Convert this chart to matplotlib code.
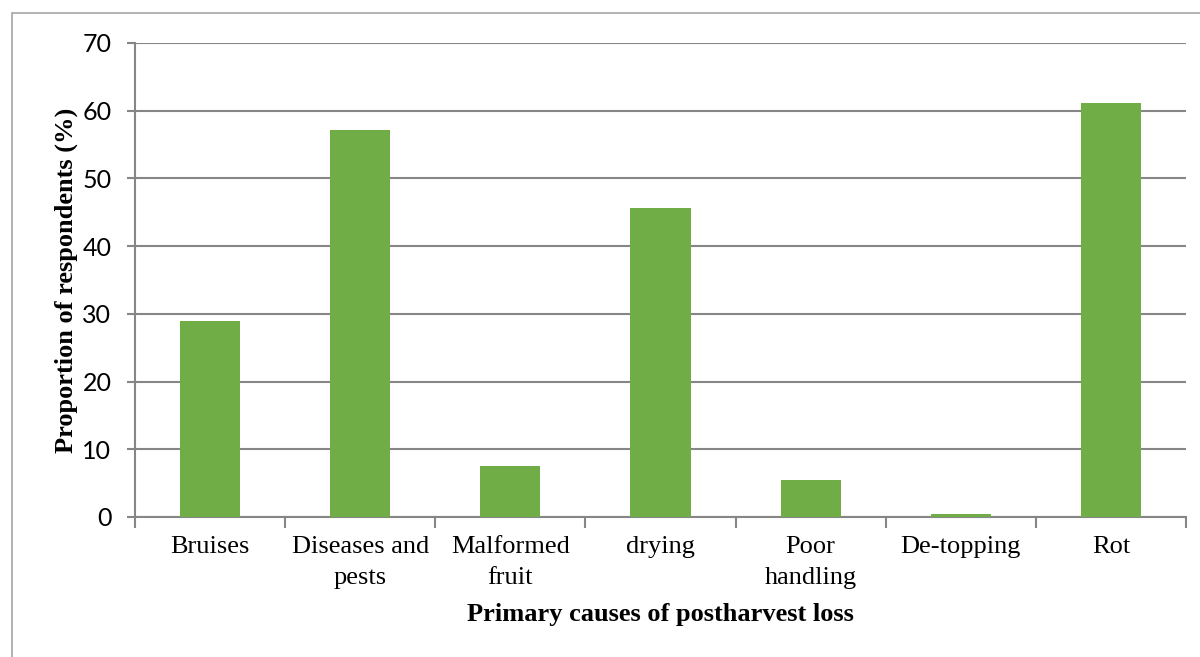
import matplotlib
matplotlib.use("Agg")
import matplotlib.pyplot as plt
from matplotlib.patches import Rectangle

categories = ["Bruises", "Diseases and\npests", "Malformed\nfruit", "drying",
              "Poor\nhandling", "De-topping", "Rot"]
values = [28.9, 57.2, 7.5, 45.6, 5.5, 0.5, 61.1]
yticks = [0, 10, 20, 30, 40, 50, 60, 70]

fig = plt.figure(figsize=(12, 6.57), dpi=100)
fig.patches.append(Rectangle((12/1200, -0.1), 1.2, 1 - 13/657 + 0.1,
                             transform=fig.transFigure, fill=False,
                             edgecolor="#a6a6a6", linewidth=1.2))
ax = fig.add_axes([135/1200, 1 - 517/657, (1186 - 135)/1200, (517 - 43)/657])

x = list(range(len(categories)))
ax.bar(x, values, width=0.4, color="#70AD47", zorder=3)
ax.set_xlim(-0.5, len(categories) - 0.5)
ax.set_ylim(0, 70)
ax.set_yticks(yticks)
ax.set_yticklabels([str(t) for t in yticks], family="Lato", fontsize=18)
ax.yaxis.grid(True, color="#868686", linewidth=1.5, zorder=0)
ax.set_xticks(x)
ax.set_xticklabels(categories, family="Liberation Serif", fontsize=19, linespacing=1.5)
ax.tick_params(axis="x", length=0, pad=14)
ax.tick_params(axis="y", length=6, width=1.5, color="#868686", pad=11)
# category boundary ticks
ax.set_xticks([i - 0.5 for i in range(len(categories) + 1)], minor=True)
ax.tick_params(axis="x", which="minor", length=8, width=1.5, color="#868686")
for s in ["top", "right"]:
    ax.spines[s].set_visible(False)
for s in ["left", "bottom"]:
    ax.spines[s].set_color("#868686")
    ax.spines[s].set_linewidth(1.5)

ax.set_xlabel("Primary causes of postharvest loss", family="Liberation Serif",
              fontsize=19, fontweight="bold", labelpad=10)
ax.set_ylabel("Proportion of respondents (%)", family="Liberation Serif",
              fontsize=19, fontweight="bold", labelpad=3)

fig.savefig("out.png", dpi=100)
